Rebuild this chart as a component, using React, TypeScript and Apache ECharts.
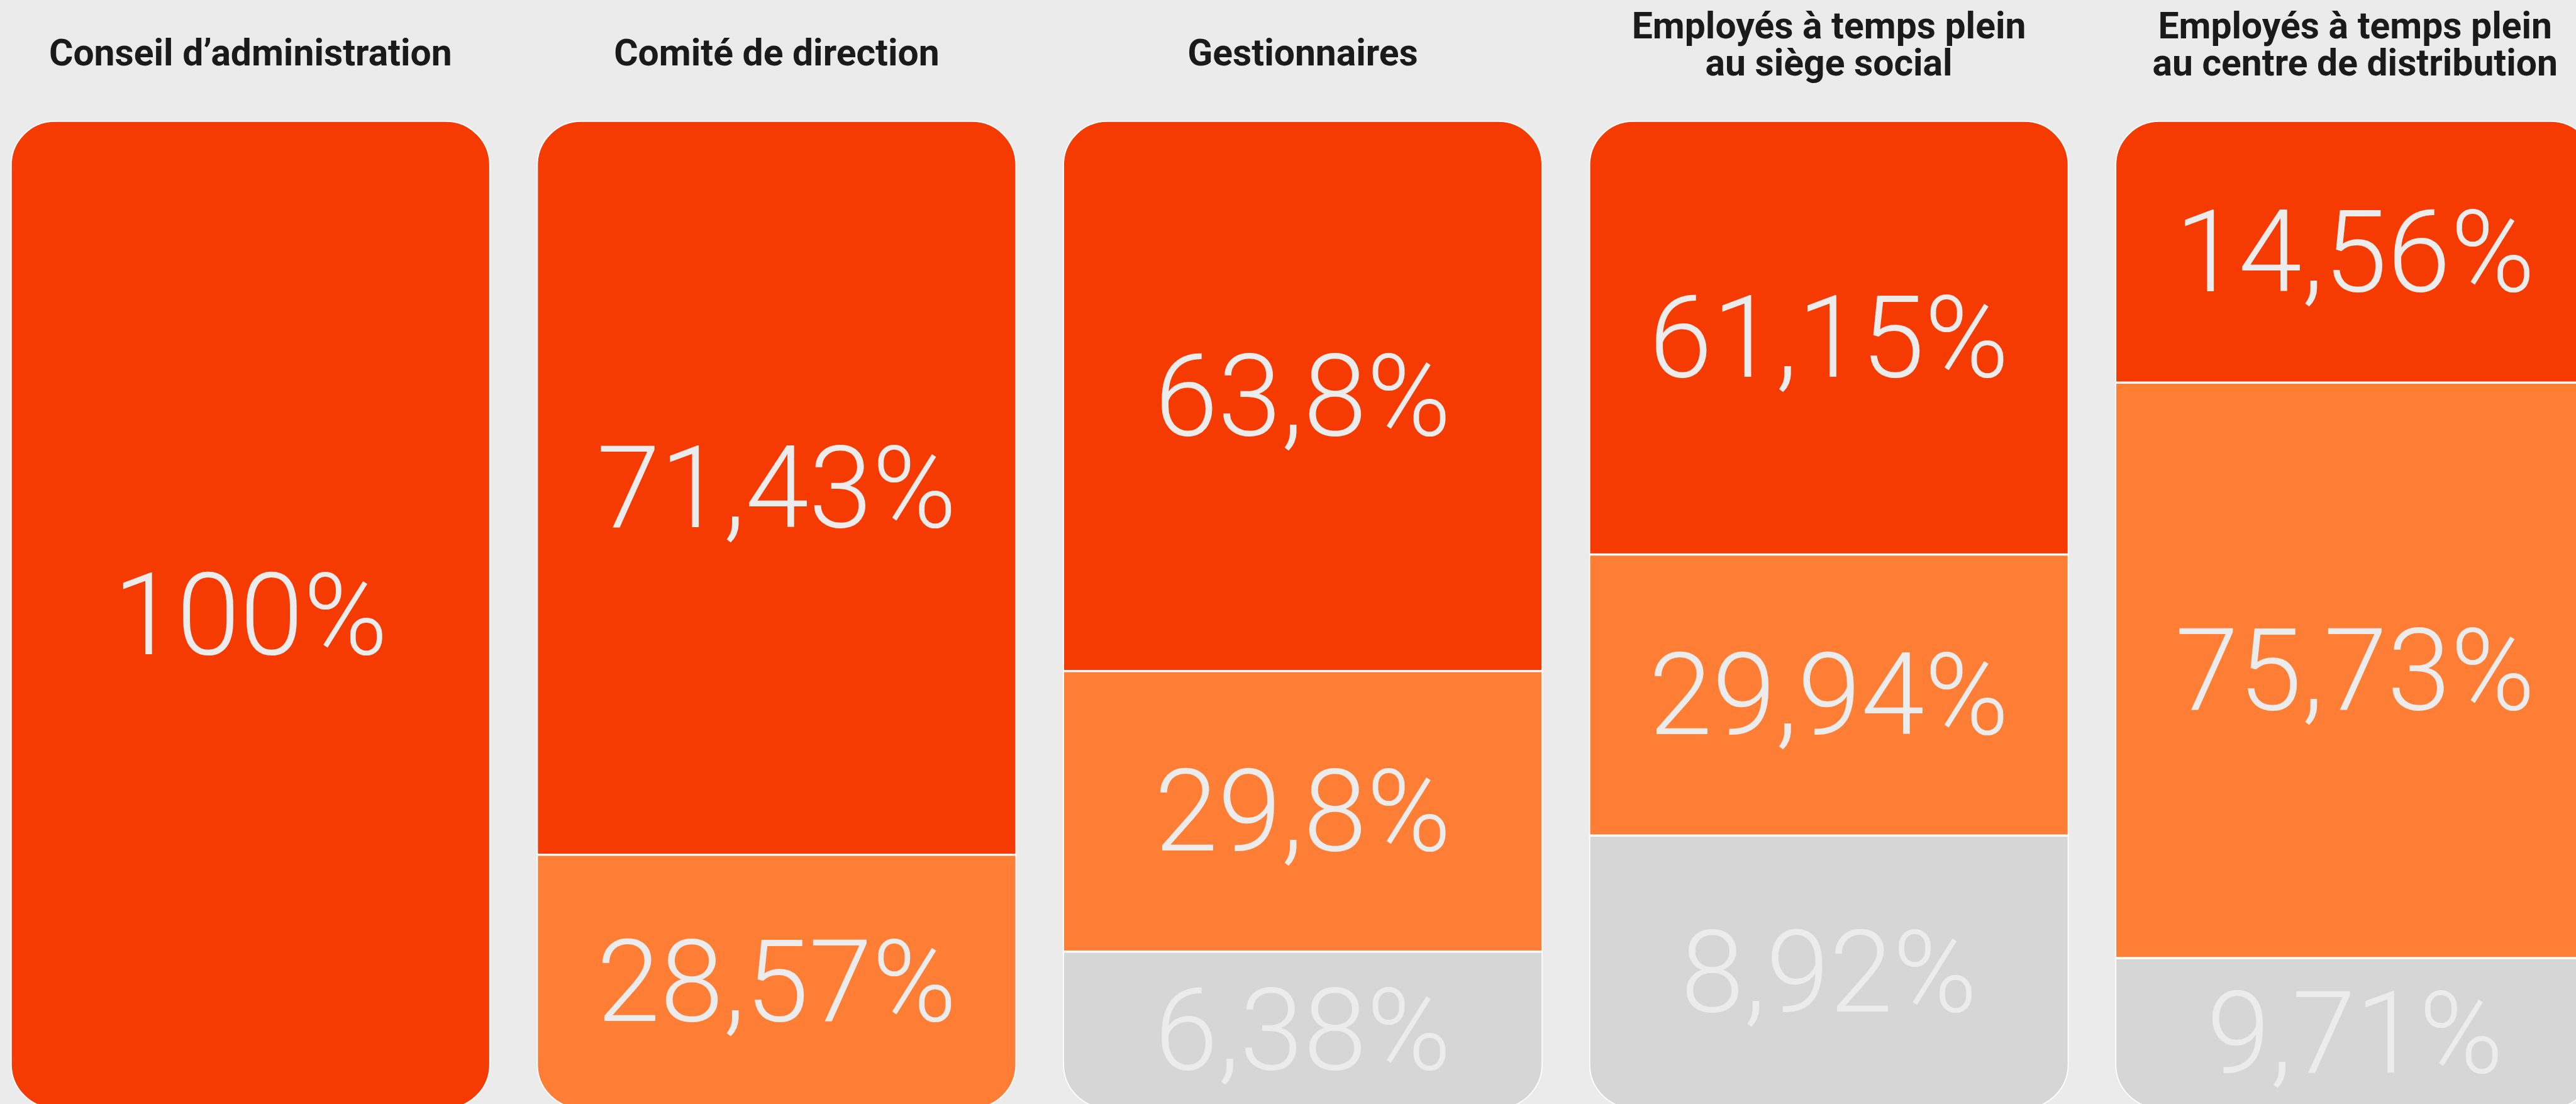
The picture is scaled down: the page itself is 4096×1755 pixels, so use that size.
import React, { useEffect, useRef } from "react";
import * as echarts from "echarts";

// ---- data -------------------------------------------------------------
const categories = [
  "Conseil d’administration",
  "Comité de direction",
  "Gestionnaires",
  "Employés à temps plein\nau siège social",
  "Employés à temps plein\nau centre de distribution",
];

// percentages printed in each segment, top to bottom
const tier1Pct = [100, 71.43, 63.8, 61.15, 14.56];
const tier2Pct = [null, 28.57, 29.8, 29.94, 75.73];
const tier3Pct = [null, null, 6.38, 8.92, 9.71];

// drawn height of each segment, as a share of the column
const tier1Height = [100, 74.3, 55.7, 43.9, 26.5];
const tier2Height = [null, 25.7, 28.4, 28.45, 58.25];
const tier3Height = [null, null, 15.9, 27.65, 15.25];

const tierNames = ["Niveau 1", "Niveau 2", "Niveau 3"];
const tierColors = ["#f53b02", "#ff7e35", "#d6d6d6"];

// ---- layout -----------------------------------------------------------
const S = 0.891;
const W = 4096;
const H = 1755;
const BG = "#ebebeb";
const BAND = 939 * S;
const FIRST_CENTER = 447.5 * S;
const CHART_LEFT = FIRST_CENTER - BAND / 2; // negative: first band starts left of the window
const CHART_W = BAND * categories.length;

const fmt = (v: number) => String(v).replace(".", ",") + "%";

export default function App() {
  const ref = useRef<HTMLDivElement>(null);

  useEffect(() => {
    if (!ref.current) return;
    document.body.style.margin = "0";
    document.body.style.overflow = "hidden";
    document.body.style.background = BG;
    const chart = echarts.init(ref.current, undefined, { renderer: "svg" });

    const tiers = [
      { pct: tier1Pct, h: tier1Height },
      { pct: tier2Pct, h: tier2Height },
      { pct: tier3Pct, h: tier3Height },
    ];
    const R = 78 * S;
    const radiusFor = (ti: number, ci: number) => {
      const present = tiers.map((t) => t.h[ci] != null && (t.h[ci] as number) > 0);
      const first = present.indexOf(true);
      const last = present.lastIndexOf(true);
      const r = [0, 0, 0, 0];
      if (ti === first) { r[0] = R; r[1] = R; }
      if (ti === last) { r[2] = R; r[3] = R; }
      return r;
    };

    const gridTop = 215.5 * S;
    const barBottom = 1978 * S;
    const yMax = (100 * (H - gridTop)) / (barBottom - gridTop);

    const series = tiers.map((t, ti) => ({
      type: "bar",
      name: tierNames[ti],
      stack: "total",
      barWidth: 856 * S,
      clip: false,
      silent: true,
      emphasis: { disabled: true },
      itemStyle: { color: tierColors[ti], borderColor: "#ffffff", borderWidth: 2 * S },
      label: {
        show: true,
        position: "inside",
        formatter: (p: any) => (p.data && p.data.pct != null ? fmt(p.data.pct) : ""),
        fontFamily: "Roboto",
        fontWeight: 300,
        fontSize: 204 * S,
        color: "#ececec",
        textBorderWidth: 0,
      },
      data: t.h.map((v, ci) =>
        v == null
          ? "-"
          : { value: v, pct: t.pct[ci], itemStyle: { borderRadius: radiusFor(ti, ci) } }
      ),
    }));

    chart.setOption({
      animation: false,
      backgroundColor: BG,
      grid: { left: 0, right: 0, top: gridTop, bottom: 0, containLabel: false },
      xAxis: { type: "category", data: categories, show: false },
      yAxis: { type: "value", inverse: true, min: 0, max: yMax, show: false },
      series,
    });

    const titleSize = 66 * S;
    const graphics = categories.map((c, i) => {
      const x = chart.convertToPixel({ xAxisIndex: 0 }, i) as number;
      const lines = c.split("\n").length;
      return {
        type: "text",
        x,
        y: lines === 1 ? 93.5 * S : 78.5 * S,
        silent: true,
        style: {
          text: c,
          align: "center",
          verticalAlign: "middle",
          fontFamily: "Roboto",
          fontWeight: 700,
          fontSize: titleSize,
          lineHeight: titleSize,
          fill: "#1a1a1a",
        },
      };
    });
    chart.setOption({ graphic: graphics });

    return () => chart.dispose();
  }, []);

  return (
    <div
      ref={ref}
      style={{
        position: "fixed",
        left: CHART_LEFT,
        top: 0,
        width: CHART_W,
        height: H,
        background: BG,
      }}
    />
  );
}
